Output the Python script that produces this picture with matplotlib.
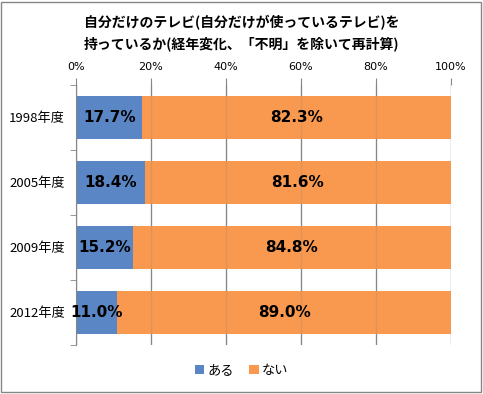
import matplotlib
matplotlib.use('Agg')
import matplotlib.pyplot as plt
import numpy as np

plt.rcParams['font.family'] = ['Noto Sans CJK JP', 'DejaVu Sans']

years = ['1998年度', '2005年度', '2009年度', '2012年度']
aru = [17.7, 18.4, 15.2, 11.0]
nai = [82.3, 81.6, 84.8, 89.0]
xticks = [0, 20, 40, 60, 80, 100]

blue = '#5a86c5'
orange = '#f8994f'

fig = plt.figure(figsize=(4.83, 3.94), dpi=100)
ax = fig.add_axes([0.1573, 0.1244, 0.7764, 0.6599])

y = np.arange(len(years))
ax.barh(y, aru, height=0.66, color=blue, label='ある', zorder=2)
ax.barh(y, nai, left=aru, height=0.66, color=orange, label='ない', zorder=2)

for i in range(len(years)):
    ax.text(aru[i] / 2, y[i], '%.1f%%' % aru[i], ha='center', va='center',
            fontsize=11, fontweight='bold', family='DejaVu Sans', zorder=4)
    ax.text(aru[i] + nai[i] / 2, y[i], '%.1f%%' % nai[i], ha='center', va='center',
            fontsize=11, fontweight='bold', family='DejaVu Sans', zorder=4)

ax.set_xlim(0, 100)
ax.set_ylim(len(years) - 0.5, -0.5)
ax.xaxis.tick_top()
ax.set_xticks(xticks)
ax.set_xticklabels(['%d%%' % v for v in xticks], fontsize=8, family='DejaVu Sans')
ax.set_yticks(y)
ax.set_yticklabels(years, fontsize=9.5)
ax.set_yticks(np.arange(len(years) + 1) - 0.5, minor=True)
ax.tick_params(axis='y', which='major', length=0, pad=8)
ax.tick_params(axis='y', which='minor', length=4, color='#868686')
ax.tick_params(axis='x', length=5, color='#868686', pad=4)
for v in xticks:
    ax.axvline(v, color='#868686', lw=0.9, zorder=3, alpha=0.25)
    ax.axvline(v, color='#868686', lw=0.9, zorder=1)
for s in ['top', 'right', 'bottom']:
    ax.spines[s].set_visible(False)
ax.spines['left'].set_color('#868686')
ax.spines['left'].set_zorder(3)

fig.text(0.5, 0.942, '自分だけのテレビ(自分だけが使っているテレビ)を', ha='center', va='center',
         fontsize=10, fontweight='bold')
fig.text(0.5, 0.889, '持っているか(経年変化、「不明」を除いて再計算)', ha='center', va='center',
         fontsize=10, fontweight='bold')

fig.legend(loc='center', bbox_to_anchor=(0.5, 0.06), ncol=2, frameon=False,
           fontsize=9.5, handlelength=0.7, handleheight=0.7, handletextpad=0.2,
           columnspacing=1.2)

fig.patches.append(plt.Rectangle((0.003, 0.006), 0.993, 0.99, transform=fig.transFigure,
                                 fill=False, edgecolor='#868686', lw=1))

fig.savefig('out.png', dpi=100)
